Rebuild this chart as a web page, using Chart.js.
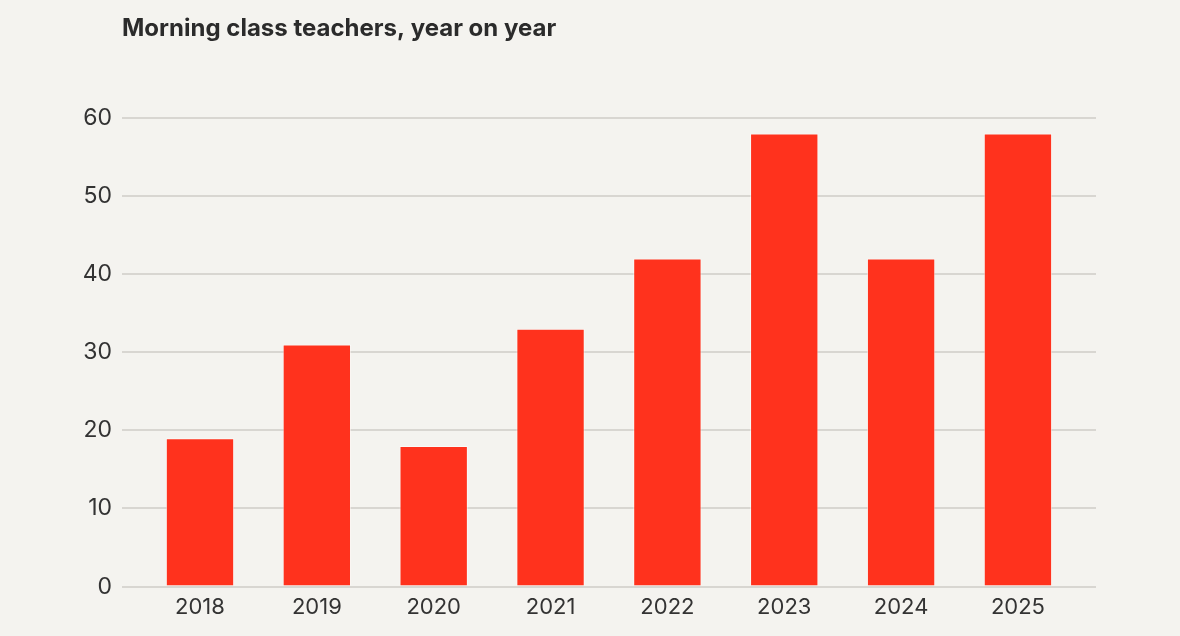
<!DOCTYPE html>
<html>
<head>
<meta charset="utf-8">
<script src="https://cdn.jsdelivr.net/npm/chart.js@4.4.1/dist/chart.umd.min.js"></script>
<style>
  html, body { margin: 0; padding: 0; background: #f4f3ef; }
  #wrap { width: 1180px; height: 636px; position: relative; }
</style>
</head>
<body>
<div id="wrap"><canvas id="c"></canvas></div>
<script>
const titleText = "Morning class teachers, year on year";
const years = ["2018", "2019", "2020", "2021", "2022", "2023", "2024", "2025"];
const teachers = [19, 31, 18, 33, 42, 58, 42, 58];
const yTicks = [0, 10, 20, 30, 40, 50, 60];

const points = teachers.map((v, i) => ({ x: i, y: v }));

new Chart(document.getElementById('c'), {
  type: 'bar',
  data: {
    datasets: [{
      data: points,
      backgroundColor: '#ff321d',
      borderColor: 'rgba(255,255,255,0.55)',
      borderWidth: 1,
      categoryPercentage: 1,
      barPercentage: 0.585
    }]
  },
  options: {
    responsive: true,
    maintainAspectRatio: false,
    animation: false,
    layout: { padding: { left: 0, right: 84, top: 0, bottom: 15 } },
    plugins: {
      legend: { display: false },
      tooltip: { enabled: false },
      title: {
        display: true,
        text: titleText,
        align: 'start',
        fullSize: false,
        color: '#2b2b2b',
        font: { family: 'Inter', size: 24, weight: 'bold' },
        padding: { top: 14, bottom: 75 }
      }
    },
    scales: {
      x: {
        type: 'linear',
        bounds: 'data',
        offset: false,
        min: -0.6675,
        max: 7.668,
        grid: { display: false, offset: false },
        border: { display: false },
        afterBuildTicks: (axis) => { axis.ticks = years.map((y, i) => ({ value: i })); },
        ticks: {
          autoSkip: false,
          maxRotation: 0,
          padding: 0,
          color: '#333333',
          font: { family: 'Inter', size: 22 },
          callback: (v) => years[v]
        }
      },
      y: {
        min: 0,
        max: 60,
        afterBuildTicks: (axis) => { axis.ticks = yTicks.map(v => ({ value: v })); },
        afterFit: (axis) => { axis.width = 122; },
        grid: { color: '#d8d6d1', lineWidth: 2, drawTicks: false },
        border: { display: false },
        ticks: {
          padding: 10,
          color: '#333333',
          font: { family: 'Inter', size: 23 }
        }
      }
    }
  }
});
</script>
</body>
</html>
